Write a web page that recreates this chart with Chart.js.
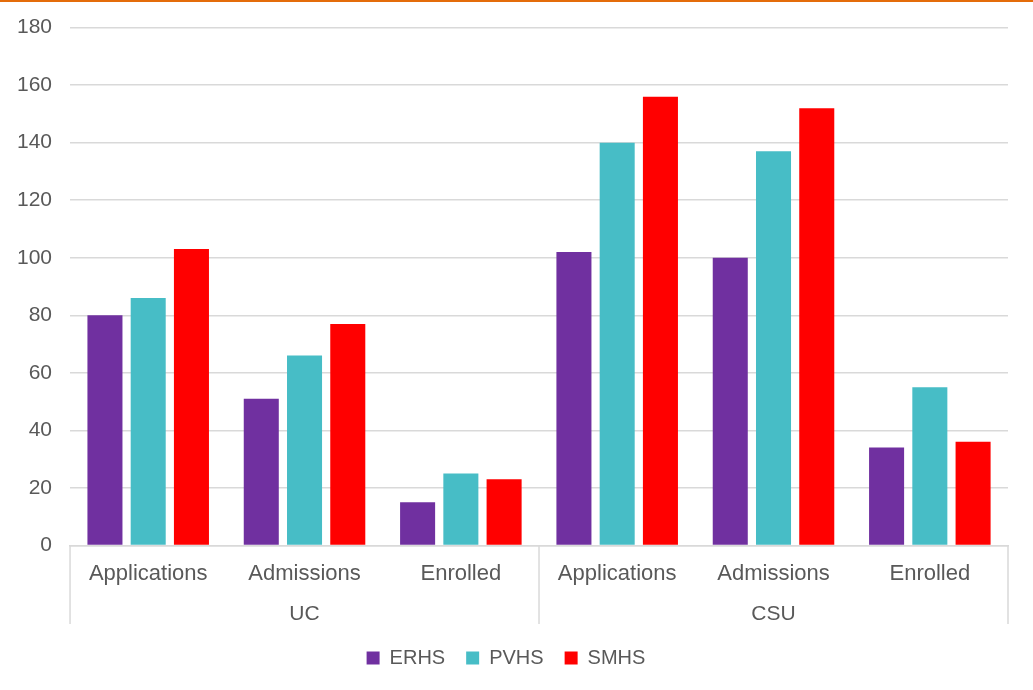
<!DOCTYPE html>
<html>
<head>
<meta charset="utf-8">
<script src="https://cdn.jsdelivr.net/npm/chart.js@4"></script>
<style>
  body { margin: 0; background: #fff; }
  #wrap { width: 1033px; height: 688px; border-top: 2px solid #E46C0A; position: relative; }
</style>
</head>
<body>
<div id="wrap"><canvas id="myBarChart" width="1033" height="688"></canvas></div>
<script>
// chart data
const groups = ['UC', 'CSU'];
const stages = ['Applications', 'Admissions', 'Enrolled', 'Applications', 'Admissions', 'Enrolled'];
const seriesNames = ['ERHS', 'PVHS', 'SMHS'];
const erhs = [80, 51, 15, 102, 100, 34];
const pvhs = [86, 66, 25, 140, 137, 55];
const smhs = [103, 77, 23, 156, 152, 36];
const colors = ['#7030A0', '#47BDC6', '#FF0000'];
const yTicks = [0, 20, 40, 60, 80, 100, 120, 140, 160, 180];

const textColor = '#595959';
const gridColor = '#D9D9D9';
const fontFamily = "'Liberation Sans', Arial, sans-serif";

// draws the boxes that separate the UC / CSU groups under the axis
const groupLines = {
	id: 'groupLines',
	afterDraw(chart) {
		const ctx = chart.ctx;
		const x = chart.scales.x;
		const x2 = chart.scales.x2;
		const top = chart.chartArea.bottom;
		const bottom = x2.bottom - 3;
		const per = stages.length / groups.length;
		const xs = [x.left];
		for (let g = 1; g < groups.length; g++) {
			xs.push((x.getPixelForValue(g * per - 1) + x.getPixelForValue(g * per)) / 2);
		}
		xs.push(x.right);
		ctx.save();
		ctx.strokeStyle = gridColor;
		ctx.lineWidth = 1.5;
		xs.forEach(function(px) {
			ctx.beginPath();
			ctx.moveTo(px, top);
			ctx.lineTo(px, bottom);
			ctx.stroke();
		});
		ctx.restore();
	}
};

const ctxBar = document.getElementById('myBarChart').getContext('2d');
const data = [erhs, pvhs, smhs];
new Chart(ctxBar, {
	type: 'bar',
	data: {
		labels: stages,
		datasets: seriesNames.map(function(name, i) {
			return {
				label: name,
				data: data[i],
				backgroundColor: colors[i],
				borderWidth: 0,
				categoryPercentage: 0.83,
				barPercentage: 0.81
			};
		})
	},
	options: {
		responsive: false,
		animation: false,
		layout: { padding: { top: 0, right: 25, left: 4, bottom: 12 } },
		plugins: {
			legend: {
				position: 'bottom',
				labels: {
					boxWidth: 13,
					boxHeight: 13,
					padding: 21,
					color: textColor,
					font: { size: 20, family: fontFamily }
				}
			},
			tooltip: { enabled: false }
		},
		scales: {
			x: {
				grid: { display: false },
				border: { display: true, color: gridColor, width: 1.5 },
				ticks: { color: textColor, padding: 7, font: { size: 22, family: fontFamily } }
			},
			x2: {
				type: 'category',
				labels: groups,
				position: 'bottom',
				offset: true,
				grid: { display: false },
				border: { display: false },
				ticks: { color: textColor, padding: 0, font: { size: 21, family: fontFamily } }
			},
			y: {
				min: 0,
				max: 180,
				afterBuildTicks: function(axis) {
					axis.ticks = yTicks.map(function(v) { return { value: v }; });
				},
				grid: { color: gridColor, lineWidth: 1.5, drawTicks: true, tickLength: 5, tickColor: 'rgba(0,0,0,0)' },
				border: { display: false },
				ticks: { color: textColor, padding: 13, font: { size: 21, family: fontFamily } }
			}
		}
	},
	plugins: [groupLines]
});
</script>
</body>
</html>
